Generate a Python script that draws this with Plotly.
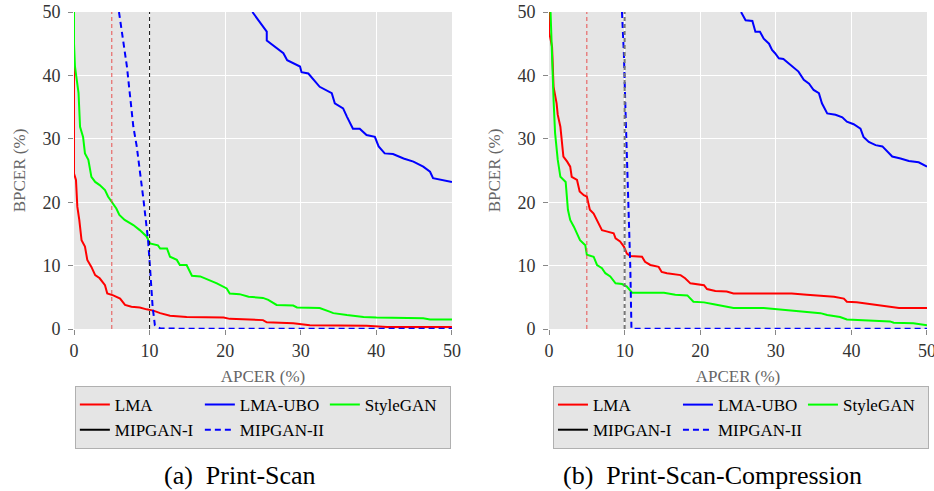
import plotly.graph_objects as go

# ---------------- data: (a) Print-Scan ----------------
A_LMA_X = [0, 0, 0.26, 0.44, 0.7, 1.0, 1.45, 1.76, 2.3, 2.8, 3.4, 4.1, 4.4, 5.2, 6.1, 6.75, 7.6, 8.7, 9.6, 10.5,
           11.4, 12.7, 14.9, 19.8, 20.6, 25.0, 25.5, 29.0, 31.2, 38.7, 41.4, 50]
A_LMA_Y = [45, 24.5, 23.5, 19.3, 17.2, 14.0, 13.0, 10.9, 9.8, 8.5, 8.0, 6.9, 5.6, 5.3, 4.8, 3.8, 3.5, 3.4, 3.1, 2.9,
           2.5, 2.1, 1.9, 1.8, 1.6, 1.4, 1.05, 0.9, 0.6, 0.5, 0.3, 0.3]

A_UBO_X = [23.6, 25.5, 25.5, 27.7, 28.2, 29.9, 30.1, 31.0, 32.5, 34.1, 34.5, 35.6, 36.1, 36.9, 37.8, 38.7, 39.8,
           40.3, 41.1, 42.2, 43.6, 44.9, 46.2, 47.1, 47.5, 48.9, 50]
A_UBO_Y = [50, 46.9, 45.5, 43.5, 42.4, 41.4, 40.5, 40.3, 38.2, 37.2, 35.6, 34.8, 33.5, 31.6, 31.6, 30.6, 30.3,
           28.8, 27.7, 27.6, 26.9, 26.4, 25.6, 24.8, 23.8, 23.5, 23.2]

A_STY_X = [0, 0, 0.13, 0.6, 0.8, 1.2, 1.45, 1.9, 2.3, 2.8, 3.4, 4.1, 4.5, 5.0, 5.6, 6.0, 6.7, 7.85, 8.7, 9.6,
           10.05, 11.1, 11.4, 12.3, 12.7, 13.6, 14.0, 14.9, 15.6, 16.7, 18.0, 18.9, 20.2, 20.6, 21.9, 23.1, 25.0,
           25.7, 26.8, 29.0, 29.5, 32.5, 33.9, 34.3, 36.1, 38.3, 40.0, 46.2, 47.1, 50]
A_STY_Y = [50, 45, 41.4, 37.2, 31.9, 30.3, 27.7, 26.7, 24.0, 23.2, 22.7, 21.9, 20.9, 20.1, 19.0, 18.0, 17.2, 16.4,
           15.6, 14.6, 13.5, 13.2, 12.7, 12.7, 11.4, 10.9, 10.1, 10.1, 8.4, 8.3, 7.7, 7.2, 6.4, 5.6, 5.5, 5.1, 4.9,
           4.6, 3.8, 3.7, 3.4, 3.3, 2.7, 2.5, 2.2, 1.9, 1.8, 1.7, 1.5, 1.5]

A_MIP1_X = [None]
A_MIP1_Y = [None]

A_MIP2_X = [5.95, 7.0, 7.85, 8.3, 9.2, 9.8, 10.05, 10.4, 10.7, 11.4, 14.0, 50]
A_MIP2_Y = [50, 41.4, 31.9, 28.8, 20.3, 14.0, 9.8, 3.5, 0.6, 0.1, 0.05, 0.05]

# ---------------- data: (b) Print-Scan-Compression ----------------
B_LMA_X = [0, 0, 0.4, 0.6, 1.0, 1.15, 1.5, 1.7, 1.9, 2.4, 2.8, 3.0, 3.7, 4.05, 4.6, 5.0, 5.4, 5.9, 6.35, 7.0,
           7.6, 8.55, 8.8, 9.4, 9.9, 10.3, 10.75, 12.3, 12.7, 13.4, 14.5, 14.9, 15.6, 17.4, 18.0, 18.7, 20.5,
           20.9, 22.0, 23.5, 24.4, 32.1, 34.1, 37.7, 39.0, 39.4, 40.7, 42.5, 43.8, 45.6, 46.3, 50]
B_LMA_Y = [50, 46.9, 44.5, 38.2, 35.6, 33.8, 31.9, 29.3, 27.2, 26.4, 25.6, 24.0, 23.5, 21.7, 21.1, 20.9, 18.8,
           18.2, 17.2, 15.6, 15.4, 15.1, 14.3, 13.8, 13.0, 11.9, 11.5, 11.4, 10.6, 10.1, 9.8, 9.0, 8.8, 8.5, 8.0,
           7.2, 6.9, 6.3, 6.0, 5.9, 5.6, 5.6, 5.4, 5.1, 4.8, 4.3, 4.2, 3.9, 3.8, 3.5, 3.3, 3.3]

B_UBO_X = [25.4, 26.0, 26.9, 27.3, 27.9, 28.4, 29.1, 29.5, 29.9, 30.4, 31.0, 31.7, 32.4, 33.0, 33.7, 34.4, 35.0,
           35.7, 36.1, 36.8, 37.9, 38.8, 39.4, 40.3, 41.2, 41.6, 42.3, 43.2, 44.1, 44.7, 45.4, 46.5, 47.6, 48.9, 50]
B_UBO_Y = [50, 48.7, 48.6, 46.9, 46.9, 45.8, 45.0, 44.0, 43.5, 42.7, 42.6, 41.9, 41.1, 40.6, 39.3, 38.7, 37.7,
           37.2, 35.6, 34.0, 33.8, 33.4, 32.7, 32.3, 31.6, 30.3, 29.5, 29.0, 28.8, 28.0, 27.2, 26.9, 26.5, 26.3, 25.6]

B_STY_X = [0.2, 0.4, 0.6, 0.8, 1.15, 1.5, 2.2, 2.5, 2.8, 3.3, 3.7, 4.1, 4.8, 5.0, 5.9, 6.35, 7.0, 7.45, 8.1, 8.8,
           9.65, 10.3, 11.0, 15.2, 16.7, 18.3, 19.1, 20.5, 21.8, 23.1, 24.4, 28.4, 31.0, 33.7, 35.9, 36.8, 38.5,
           39.4, 42.1, 45.1, 45.6, 48.2, 50]
B_STY_Y = [50, 41.4, 36.1, 30.9, 26.7, 24.0, 23.2, 18.8, 17.2, 16.1, 15.1, 14.0, 13.2, 11.7, 11.4, 10.1, 9.6, 8.8,
           8.3, 7.2, 7.1, 6.7, 5.7, 5.7, 5.4, 5.3, 4.3, 4.2, 3.9, 3.6, 3.3, 3.3, 3.0, 2.7, 2.5, 2.2, 1.9, 1.5, 1.4,
           1.2, 1.0, 0.9, 0.6]

B_MIP1_X = [None]
B_MIP1_Y = [None]

B_MIP2_X = [9.65, 9.9, 10.1, 10.3, 10.5, 10.75, 10.9, 50]
B_MIP2_Y = [50, 43.5, 35.0, 28.2, 19.3, 9.8, 0.05, 0.05]

SERIES = ["LMA", "LMA-UBO", "StyleGAN", "MIPGAN-I", "MIPGAN-II"]
COLORS = ["#ff0000", "#0000ff", "#00ff00", "#000000", "#0000ff"]
DASHES = ["solid", "solid", "solid", "solid", "6px,4px"]
GROUPS = ["g1", "g2", "g3", "g1", "g2"]

THRESHOLDS = [5, 10]
X_TICKS = [0, 10, 20, 30, 40, 50]
Y_TICKS = [0, 10, 20, 30, 40, 50]
CAPTIONS = ["(a)\u00a0\u00a0Print-Scan", "(b)\u00a0\u00a0Print-Scan-Compression"]

panels = [
    [(A_LMA_X, A_LMA_Y), (A_UBO_X, A_UBO_Y), (A_STY_X, A_STY_Y), (A_MIP1_X, A_MIP1_Y), (A_MIP2_X, A_MIP2_Y)],
    [(B_LMA_X, B_LMA_Y), (B_UBO_X, B_UBO_Y), (B_STY_X, B_STY_Y), (B_MIP1_X, B_MIP1_Y), (B_MIP2_X, B_MIP2_Y)],
]

SERIF = "Liberation Serif"

fig = go.Figure()
for p, data in enumerate(panels):
    xa = "x" if p == 0 else "x2"
    ya = "y" if p == 0 else "y2"
    leg = "legend" if p == 0 else "legend2"
    for i, (xs, ys) in enumerate(data):
        fig.add_trace(go.Scatter(
            x=xs, y=ys, mode="lines", name=SERIES[i],
            line=dict(color=COLORS[i], width=2, dash=DASHES[i]),
            xaxis=xa, yaxis=ya, legend=leg,
            legendgroup=f"{GROUPS[i]}_{p}",
            hoverinfo="skip",
        ))

# threshold lines
for p in range(2):
    xr = "x" if p == 0 else "x2"
    yr = "y domain" if p == 0 else "y2 domain"
    fig.add_shape(type="line", xref=xr, yref=yr, x0=THRESHOLDS[0], x1=THRESHOLDS[0], y0=0, y1=1,
                  line=dict(color="#e8504f", width=1, dash="4px,3px"), layer="above")
    fig.add_shape(type="line", xref=xr, yref=yr, x0=THRESHOLDS[1], x1=THRESHOLDS[1], y0=0, y1=1,
                  line=dict(color="#111111" if p == 0 else "#777777", width=1 if p == 0 else 2,
                            dash="4px,3px"), layer="above")

axis_common = dict(
    range=[0, 50], showgrid=True, gridcolor="white", gridwidth=1, zeroline=False,
    ticks="outside", ticklen=5, tickcolor="#888888", tickwidth=1,
    tickfont=dict(family=SERIF, size=18, color="#333333"),
    showline=False, automargin=False, ticklabeloverflow="allow",
)
title_font = dict(family=SERIF, size=17, color="#666666")

fig.update_layout(
    width=934, height=491,
    margin=dict(l=74, r=7, t=12, b=162, autoexpand=False),
    paper_bgcolor="white", plot_bgcolor="#e5e5e5",
    font=dict(family=SERIF, color="#000000"),
    xaxis=dict(domain=[0, 0.4431], tickvals=X_TICKS, anchor="y",
               title=dict(text="APCER (%)", font=title_font, standoff=10), **axis_common),
    xaxis2=dict(domain=[0.5569, 1], tickvals=X_TICKS, anchor="y2",
                title=dict(text="APCER (%)", font=title_font, standoff=10), **axis_common),
    yaxis=dict(domain=[0, 1], tickvals=Y_TICKS, anchor="x", ticklabelstandoff=4,
               title=dict(text="BPCER (%)", font=title_font, standoff=12), **axis_common),
    yaxis2=dict(domain=[0, 1], tickvals=Y_TICKS, anchor="x2", ticklabelstandoff=4,
                title=dict(text="BPCER (%)", font=title_font, standoff=12), **axis_common),
    legend=dict(orientation="h", x=0.001, xanchor="left", y=-0.18, yanchor="top",
                bgcolor="#e5e5e5", bordercolor="#b0b0b0", borderwidth=1,
                font=dict(family=SERIF, size=17, color="#000000"),
                entrywidth=80, tracegroupgap=0, itemclick=False, itemdoubleclick=False),
    legend2=dict(orientation="h", x=0.5615, xanchor="left", y=-0.18, yanchor="top",
                 bgcolor="#e5e5e5", bordercolor="#b0b0b0", borderwidth=1,
                 font=dict(family=SERIF, size=17, color="#000000"),
                 entrywidth=80, tracegroupgap=0, itemclick=False, itemdoubleclick=False),
    showlegend=True,
)

fig.add_annotation(text=CAPTIONS[0], xref="paper", yref="paper", x=0.1946, y=-0.4606,
                   xanchor="center", yanchor="middle", showarrow=False,
                   font=dict(family=SERIF, size=26, color="#000000"))
fig.add_annotation(text=CAPTIONS[1], xref="paper", yref="paper", x=0.749, y=-0.4606,
                   xanchor="center", yanchor="middle", showarrow=False,
                   font=dict(family=SERIF, size=26, color="#000000"))

# remove the browser's default page margin so the figure fills the window exactly
fig.write_html("out.html", config={"displayModeBar": False},
               post_script="document.body.style.margin='0';")
